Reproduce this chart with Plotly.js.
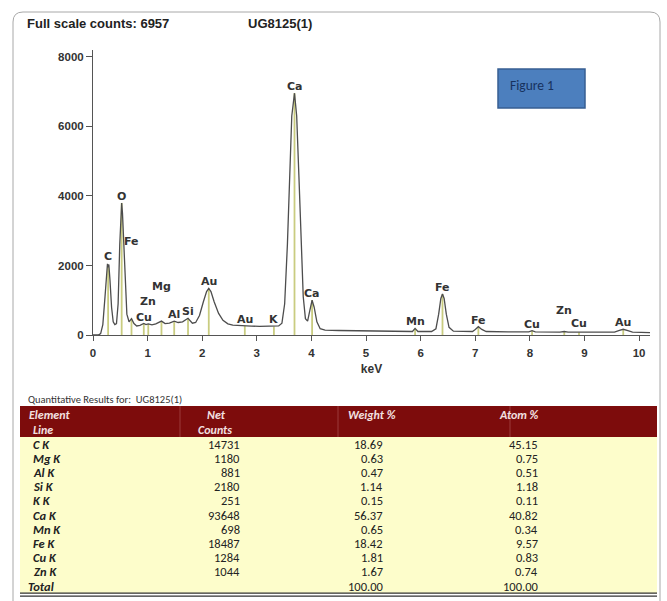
<!DOCTYPE html>
<html><head><meta charset="utf-8">
<script src="https://cdn.plot.ly/plotly-3.0.1.min.js"></script>
<style>html,body{margin:0;padding:0;background:#fff}#chart{width:667px;height:601px}</style>
</head><body><div id="chart"></div>
<script>
// ---------- DATA ----------
const energyKeV = [0.00,0.10,0.14,0.18,0.22,0.25,0.265,0.277,0.29,0.31,0.34,0.37,0.40,0.43,0.46,0.49,0.51,0.525,0.54,0.56,0.59,0.62,0.66,0.705,0.75,0.80,0.86,0.93,0.97,1.012,1.08,1.15,1.254,1.32,1.40,1.487,1.56,1.64,1.74,1.82,1.88,1.95,2.02,2.08,2.12,2.16,2.22,2.30,2.38,2.47,2.56,2.66,2.78,2.90,3.05,3.20,3.313,3.40,3.46,3.51,3.56,3.60,3.64,3.69,3.73,3.77,3.81,3.85,3.89,3.93,3.97,4.012,4.05,4.10,4.16,4.25,4.50,5.00,5.50,5.85,5.898,5.95,6.20,6.28,6.33,6.37,6.40,6.43,6.47,6.52,6.60,6.95,7.00,7.057,7.12,7.20,7.60,7.98,8.04,8.10,8.55,8.63,8.70,8.90,9.20,9.55,9.64,9.71,9.78,9.88,10.20];
const counts    = [0,0,40,300,1100,1800,2050,1950,2030,1600,800,380,300,330,900,2600,3500,3800,3500,2700,1300,600,380,470,330,260,280,330,300,320,290,320,400,330,340,400,360,380,480,340,360,560,950,1250,1340,1250,950,620,420,320,285,270,265,255,250,250,245,260,340,900,2600,4700,6300,6957,6300,4600,2600,1100,470,400,700,1000,800,380,180,140,130,120,105,100,190,100,100,180,600,1050,1180,1050,600,220,110,100,160,240,160,100,90,90,125,90,80,100,80,80,75,80,130,165,130,80,70];

const lineEnergies = [0.277,0.525,0.705,0.93,1.012,1.254,1.487,1.74,2.12,2.78,3.313,3.69,4.012,5.898,6.40,7.057,8.04,8.63,8.90,9.71];
const lineLabels   = ['C','O','Fe','Cu','Zn','Mg','Al','Si','Au','Au','K','Ca','Ca','Mn','Fe','Fe','Cu','Zn','Cu','Au'];

const xTickVals = [0,1,2,3,4,5,6,7,8,9,10];
const yTickVals = [0,2000,4000,6000,8000];

const fullScaleCounts = 6957;
const sampleName = 'UG8125(1)';

const tableElements  = ['C K','Mg K','Al K','Si K','K K','Ca K','Mn K','Fe K','Cu K','Zn K'];
const tableNetCounts = ['14731','1180','881','2180','251','93648','698','18487','1284','1044'];
const tableWeightPct = ['18.69','0.63','0.47','1.14','0.15','56.37','0.65','18.42','1.81','1.67'];
const tableAtomPct   = ['45.15','0.75','0.51','1.18','0.11','40.82','0.34','9.57','0.83','0.74'];
const totalLabel = 'Total', totalWeightPct = '100.00', totalAtomPct = '100.00';
const tableHeaders = [['Element','Line'],['Net','Counts'],['Weight %'],['Atom %']];

// ---------- HELPERS ----------
function interp(e){
  for(let i=0;i<energyKeV.length-1;i++){
    if(e>=energyKeV[i] && e<=energyKeV[i+1]){
      const t=(e-energyKeV[i])/(energyKeV[i+1]-energyKeV[i]);
      return counts[i]+t*(counts[i+1]-counts[i]);
    }
  }
  return 0;
}
// plot area in pixels
const PL=93, PR=650, PT=50, PB=335;
const px=(x)=>(x-PL)/(PR-PL);
const py=(y)=>(PB-y)/(PB-PT);

// ---------- TRACES ----------
const mx=[], my=[];
lineEnergies.forEach(e=>{ mx.push(e,e,null); my.push(0,interp(e),null); });
const markerTrace = {x:mx, y:my, type:'scatter', mode:'lines', line:{color:'#c9cc80', width:1.8}, hoverinfo:'skip'};
const specTrace = {x:energyKeV, y:counts, type:'scatter', mode:'lines', line:{color:'#4d4d4d', width:1.3}};

// ---------- ANNOTATIONS ----------
const labelShift = {0:4, 2:71, 4:16, 5:28, 17:15, 18:2};
const labelFont = {family:'DejaVu Sans, Verdana, sans-serif', size:11, color:'#333', weight:'bold'};
const ann = [];
lineEnergies.forEach((e,i)=>{
  ann.push({x:e, y:interp(e), xref:'x', yref:'y', text:lineLabels[i], showarrow:false,
    xanchor:'center', yanchor:'bottom', yshift:(labelShift[i]||0)-2, font:labelFont});
});
const hdrFont = {family:'Liberation Sans, Arial, sans-serif', size:13, color:'#222', weight:'bold'};
ann.push({x:px(25), y:py(24), xref:'paper', yref:'paper', xanchor:'left', yanchor:'middle', showarrow:false,
  text:'Full scale counts: '+fullScaleCounts, font:hdrFont});
ann.push({x:px(246), y:py(24), xref:'paper', yref:'paper', xanchor:'left', yanchor:'middle', showarrow:false,
  text:sampleName, font:hdrFont});
ann.push({x:px(508), y:py(85), xref:'paper', yref:'paper', xanchor:'left', yanchor:'middle', showarrow:false,
  text:'Figure 1', font:{family:'Carlito, Lato, sans-serif', size:13.5, color:'#17325e'}});

// table
const TF='Carlito, Lato, sans-serif';
const tFont = {family:TF, size:12.5, color:'#222'};
const tFontBI = {family:TF, size:12.5, color:'#222', weight:'bold', style:'italic'};
const hFont = {family:TF, size:12, color:'#f3e0e0', weight:'bold', style:'italic'};
ann.push({x:px(26), y:py(399), xref:'paper', yref:'paper', xanchor:'left', yanchor:'middle', showarrow:false,
  text:'Quantitative Results for:  '+sampleName, font:{family:TF, size:10.5, color:'#333'}});
const H1=414.5, H2=429.5;
ann.push({x:px(27), y:py(H1), xref:'paper', yref:'paper', xanchor:'left', yanchor:'middle', showarrow:false, text:tableHeaders[0][0], font:hFont});
ann.push({x:px(31), y:py(H2), xref:'paper', yref:'paper', xanchor:'left', yanchor:'middle', showarrow:false, text:tableHeaders[0][1], font:hFont});
ann.push({x:px(216), y:py(H1), xref:'paper', yref:'paper', xanchor:'center', yanchor:'middle', showarrow:false, text:tableHeaders[1][0], font:hFont});
ann.push({x:px(215), y:py(H2), xref:'paper', yref:'paper', xanchor:'center', yanchor:'middle', showarrow:false, text:tableHeaders[1][1], font:hFont});
ann.push({x:px(346), y:py(H1), xref:'paper', yref:'paper', xanchor:'left', yanchor:'middle', showarrow:false, text:tableHeaders[2][0], font:hFont});
ann.push({x:px(497), y:py(H1), xref:'paper', yref:'paper', xanchor:'left', yanchor:'middle', showarrow:false, text:tableHeaders[3][0], font:hFont});

const rowTop=437, rowH=14.2;
const rc = (i)=>rowTop+rowH*(i+0.5);
tableElements.forEach((el,i)=>{
  const y=py(rc(i));
  ann.push({x:px(31), y:y, xref:'paper', yref:'paper', xanchor:'left', yanchor:'middle', showarrow:false, text:el, font:tFontBI});
  ann.push({x:px(242), y:y, xref:'paper', yref:'paper', xanchor:'right', yanchor:'middle', showarrow:false, text:tableNetCounts[i], font:tFont});
  ann.push({x:px(385), y:y, xref:'paper', yref:'paper', xanchor:'right', yanchor:'middle', showarrow:false, text:tableWeightPct[i], font:tFont});
  ann.push({x:px(540), y:y, xref:'paper', yref:'paper', xanchor:'right', yanchor:'middle', showarrow:false, text:tableAtomPct[i], font:tFont});
});
const tr = tableElements.length;
ann.push({x:px(26), y:py(rc(tr)), xref:'paper', yref:'paper', xanchor:'left', yanchor:'middle', showarrow:false, text:totalLabel, font:tFontBI});
ann.push({x:px(385), y:py(rc(tr)), xref:'paper', yref:'paper', xanchor:'right', yanchor:'middle', showarrow:false, text:totalWeightPct, font:tFont});
ann.push({x:px(540), y:py(rc(tr)), xref:'paper', yref:'paper', xanchor:'right', yanchor:'middle', showarrow:false, text:totalAtomPct, font:tFont});

// ---------- SHAPES ----------
const tableBottom = rowTop + rowH*(tr+1);
const shapes = [
  {type:'path', xref:'paper', yref:'paper',
   path:`M ${px(13)},${py(640)} L ${px(13)},${py(22)} Q ${px(13)},${py(12)} ${px(23)},${py(12)} L ${px(650)},${py(12)} Q ${px(660)},${py(12)} ${px(660)},${py(22)} L ${px(660)},${py(640)}`,
   line:{color:'#a8a8a8', width:1}},
  {type:'rect', xref:'paper', yref:'paper', x0:px(498), x1:px(585), y0:py(69), y1:py(108),
   fillcolor:'#4c7fbe', line:{color:'#375f93', width:1.5}, layer:'below'},
  {type:'rect', xref:'paper', yref:'paper', x0:px(20), x1:px(657), y0:py(406), y1:py(rowTop),
   fillcolor:'#7d0c0c', line:{width:0}, layer:'below'},
  {type:'rect', xref:'paper', yref:'paper', x0:px(20), x1:px(657), y0:py(rowTop), y1:py(tableBottom),
   fillcolor:'#fdfdcb', line:{width:0}, layer:'below'},
  {type:'line', xref:'paper', yref:'paper', x0:px(180), x1:px(180), y0:py(406), y1:py(rowTop), line:{color:'#9c3b3b', width:1}},
  {type:'line', xref:'paper', yref:'paper', x0:px(338), x1:px(338), y0:py(406), y1:py(rowTop), line:{color:'#9c3b3b', width:1}},
  {type:'line', xref:'paper', yref:'paper', x0:px(510), x1:px(510), y0:py(406), y1:py(rowTop), line:{color:'#9c3b3b', width:1}},
  {type:'line', xref:'paper', yref:'paper', x0:px(20), x1:px(657), y0:py(tableBottom), y1:py(tableBottom), line:{color:'#333', width:1.2}},
  {type:'line', xref:'paper', yref:'paper', x0:px(20), x1:px(657), y0:py(tableBottom+3), y1:py(tableBottom+3), line:{color:'#333', width:1.2}}
];

const tickFont = {family:'Liberation Sans, Arial, sans-serif', size:11.5, color:'#333', weight:'bold'};
const layout = {
  width:667, height:601, margin:{l:PL, r:667-PR, t:PT, b:601-PB},
  paper_bgcolor:'#ffffff', plot_bgcolor:'#ffffff', showlegend:false,
  xaxis:{range:[0,10.2], tickvals:xTickVals, ticktext:xTickVals.map(String), ticks:'outside', ticklen:5, tickcolor:'#555',
    showline:true, linecolor:'#555', linewidth:1, showgrid:false, zeroline:false, tickfont:tickFont, fixedrange:true, ticklabelstandoff:2,
    title:{text:'keV', font:{family:'Liberation Sans, Arial, sans-serif', size:12, color:'#333', weight:'bold'}, standoff:6}},
  yaxis:{range:[0,8200], tickvals:yTickVals, ticktext:yTickVals.map(String), ticks:'outside', ticklen:6, tickcolor:'#555',
    showline:true, linecolor:'#555', linewidth:1, showgrid:false, zeroline:false, tickfont:tickFont, fixedrange:true},
  annotations:ann, shapes:shapes
};
Plotly.newPlot('chart',[markerTrace, specTrace], layout, {displayModeBar:false, staticPlot:true});
</script></body></html>
